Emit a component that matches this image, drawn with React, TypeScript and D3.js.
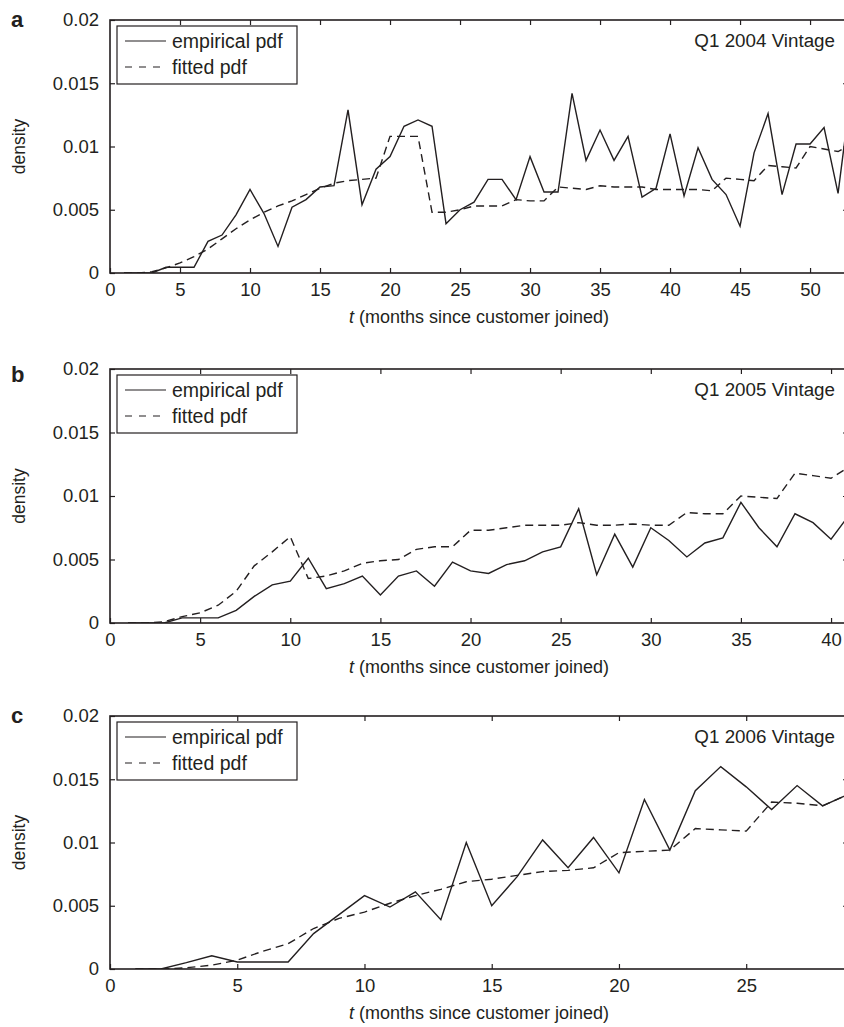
import React, { useEffect, useRef } from "react";
import * as d3 from "d3";

// months since customer joined, one list per vintage
const monthsA = d3.range(1, 54);
const monthsB = d3.range(1, 42);
const monthsC = d3.range(1, 30);

// Q1 2004 vintage
const empiricalA = [
  0, 0, 0, 0.00045, 0.00045, 0.00045, 0.0025, 0.003, 0.0046, 0.0066,
  0.0047, 0.0021, 0.0052, 0.0058, 0.0068, 0.0069, 0.0129, 0.0054, 0.0082, 0.0092,
  0.0116, 0.0121, 0.0116, 0.0039, 0.005, 0.0056, 0.0074, 0.0074, 0.0058, 0.0092,
  0.0064, 0.0064, 0.0142, 0.0089, 0.0113, 0.0089, 0.0108, 0.006, 0.0067, 0.011,
  0.0061, 0.0099, 0.0074, 0.0062, 0.0037, 0.0095, 0.0126, 0.0062, 0.0102, 0.0102,
  0.0115, 0.0063, 0.015,
];
const fittedA = [
  0, 0, 0.0001, 0.0004, 0.0008, 0.0013, 0.0019, 0.0027, 0.0035, 0.0042,
  0.0048, 0.0053, 0.0057, 0.0062, 0.0067, 0.0071, 0.0073, 0.0074, 0.0075, 0.0108,
  0.0108, 0.0108, 0.0048, 0.0048, 0.005, 0.0053, 0.0053, 0.0053, 0.0058, 0.0057,
  0.0057, 0.0068, 0.0067, 0.0066, 0.0069, 0.0068, 0.0068, 0.0068, 0.0066, 0.0066,
  0.0066, 0.0066, 0.0065, 0.0075, 0.0074, 0.0073, 0.0085, 0.0084, 0.0083, 0.01,
  0.0098, 0.0096, 0.0102,
];

// Q1 2005 vintage
const empiricalB = [
  0, 0, 0, 0.0004, 0.0004, 0.0004, 0.001, 0.0021, 0.003, 0.0033,
  0.0051, 0.0027, 0.0031, 0.0037, 0.0022, 0.0037, 0.0041, 0.0029, 0.0048, 0.0041,
  0.0039, 0.0046, 0.0049, 0.0056, 0.006, 0.009, 0.0038, 0.007, 0.0044, 0.0075,
  0.0065, 0.0052, 0.0063, 0.0067, 0.0095, 0.0075, 0.006, 0.0086, 0.0079, 0.0066,
  0.0085,
];
const fittedB = [
  0, 0, 0.0001, 0.0005, 0.0008, 0.0014, 0.0025, 0.0045, 0.0056, 0.0068,
  0.0035, 0.0037, 0.0041, 0.0047, 0.0049, 0.005, 0.0058, 0.006, 0.006, 0.0073,
  0.0073, 0.0075, 0.0077, 0.0077, 0.0077, 0.0079, 0.0077, 0.0077, 0.0078, 0.0077,
  0.0077, 0.0087, 0.0086, 0.0086, 0.01, 0.0099, 0.0098, 0.0118, 0.0116, 0.0114,
  0.0123,
];

// Q1 2006 vintage
const empiricalC = [
  0, 0, 0.0005, 0.00105, 0.00055, 0.00055, 0.00055, 0.0028, 0.0043, 0.0058,
  0.0049, 0.0061, 0.0039, 0.01, 0.005, 0.0073, 0.0102, 0.008, 0.0104, 0.0076,
  0.0134, 0.0094, 0.0141, 0.016, 0.0144, 0.0126, 0.0145, 0.0129, 0.0138,
];
const fittedC = [
  0, 0, 0.0001, 0.0003, 0.0007, 0.0014, 0.002, 0.0032, 0.004, 0.0045,
  0.0052, 0.0058, 0.0063, 0.0069, 0.0071, 0.0074, 0.0077, 0.0078, 0.008, 0.0092,
  0.0093, 0.0094, 0.0111, 0.011, 0.0109, 0.0132, 0.0131, 0.0129, 0.0138,
];

const yTicks = [0, 0.005, 0.01, 0.015, 0.02];
const xTicksA = [0, 5, 10, 15, 20, 25, 30, 35, 40, 45, 50];
const xTicksB = [0, 5, 10, 15, 20, 25, 30, 35, 40];
const xTicksC = [0, 5, 10, 15, 20, 25];

const panelLetters = ["a", "b", "c"];
const vintageTitles = ["Q1 2004 Vintage", "Q1 2005 Vintage", "Q1 2006 Vintage"];
const legendLabels = ["empirical pdf", "fitted pdf"];
const xTitle = " (months since customer joined)";
const yTitle = "density";

const INK = "#231f20";
const FONT = "'Liberation Sans', Arial, Helvetica, sans-serif";

const App = () => {
  const ref = useRef<SVGSVGElement | null>(null);

  useEffect(() => {
    const svg = d3.select(ref.current);
    svg.selectAll("*").remove();

    const panels = [
      { months: monthsA, emp: empiricalA, fit: fittedA, xTicks: xTicksA, xMax: 52.71, top: 20, bottom: 273, letterDy: 7 },
      { months: monthsB, emp: empiricalB, fit: fittedB, xTicks: xTicksB, xMax: 40.94, top: 369, bottom: 623, letterDy: 13 },
      { months: monthsC, emp: empiricalC, fit: fittedC, xTicks: xTicksC, xMax: 29, top: 716, bottom: 969, letterDy: 7 },
    ];
    const left = 110, right = 848;

    panels.forEach((p, i) => {
      const g = svg.append("g").attr("font-family", FONT).attr("fill", INK);

      const x = d3.scaleLinear().domain([0, p.xMax]).range([left, right]);
      const y = d3.scaleLinear().domain([0, 0.02]).range([p.bottom, p.top]);

      // clip for the data lines
      const clipId = `clip-${i}`;
      svg.append("defs").append("clipPath").attr("id", clipId)
        .append("rect")
        .attr("x", left).attr("y", p.top)
        .attr("width", right - left).attr("height", p.bottom - p.top);

      // Axes (ticks point inward, like matlab)
      const styleAxis = (sel: any) => {
        sel.select(".domain").remove();
        sel.selectAll("line").attr("stroke", INK).attr("stroke-width", 1.2);
        sel.selectAll("text").attr("font-size", 18.5).attr("fill", INK).attr("font-family", FONT);
      };

      g.append("g")
        .attr("transform", `translate(0,${p.bottom})`)
        .call(d3.axisBottom(x).tickValues(p.xTicks).tickSizeInner(-5).tickSizeOuter(0).tickPadding(10).tickFormat((d: any) => String(d)))
        .call(styleAxis);
      g.append("g")
        .attr("transform", `translate(0,${p.top})`)
        .call(d3.axisTop(x).tickValues(p.xTicks.filter(d => d > 0)).tickSizeInner(-5).tickSizeOuter(0).tickFormat(() => ""))
        .call(styleAxis);
      g.append("g")
        .attr("transform", `translate(${left},0)`)
        .call(d3.axisLeft(y).tickValues(yTicks).tickSizeInner(-5).tickSizeOuter(0).tickPadding(11).tickFormat((d: any) => String(d)))
        .call(styleAxis);
      g.append("g")
        .attr("transform", `translate(${right},0)`)
        .call(d3.axisRight(y).tickValues(yTicks.filter(d => d > 0 && d < 0.02)).tickSizeInner(-5).tickSizeOuter(0).tickFormat(() => ""))
        .call(styleAxis);

      // Box
      g.append("rect")
        .attr("x", left).attr("y", p.top)
        .attr("width", right - left).attr("height", p.bottom - p.top)
        .attr("fill", "none").attr("stroke", INK).attr("stroke-width", 1.6);

      // Lines
      const line = (vals: number[]) =>
        d3.line<number>().x((_, k) => x(p.months[k])).y(d => y(d))(vals);

      const data = g.append("g").attr("clip-path", `url(#${clipId})`);
      data.append("path")
        .attr("d", line(p.fit))
        .attr("fill", "none").attr("stroke", INK).attr("stroke-width", 1.4)
        .attr("stroke-dasharray", "8,5");
      data.append("path")
        .attr("d", line(p.emp))
        .attr("fill", "none").attr("stroke", INK).attr("stroke-width", 1.4);

      // Legend
      const lg = g.append("g").attr("transform", `translate(117,${p.top + 6})`);
      lg.append("rect").attr("width", 180).attr("height", 58)
        .attr("fill", "white").attr("stroke", INK).attr("stroke-width", 1.2);
      legendLabels.forEach((lab, k) => {
        const ly = 15 + k * 26;
        lg.append("line")
          .attr("x1", 8).attr("x2", 49).attr("y1", ly).attr("y2", ly)
          .attr("stroke", INK).attr("stroke-width", 1.2)
          .attr("stroke-dasharray", k === 1 ? "7,7" : null);
        lg.append("text").attr("x", 55).attr("y", ly).attr("dy", "0.35em")
          .attr("font-size", 19.5).text(lab);
      });

      // Title inside plot
      g.append("text")
        .attr("x", 835).attr("y", p.top + 20).attr("dy", "0.35em")
        .attr("text-anchor", "end").attr("font-size", 18.8)
        .text(vintageTitles[i]);

      // Panel letter
      g.append("text")
        .attr("x", 11).attr("y", p.top + p.letterDy)
        .attr("font-size", 22).attr("font-weight", "bold")
        .text(panelLetters[i]);

      // Axis titles
      const xt = g.append("text")
        .attr("x", (left + right) / 2).attr("y", p.bottom + 44).attr("dy", "0.35em")
        .attr("text-anchor", "middle").attr("font-size", 18);
      xt.append("tspan").attr("font-style", "italic").text("t");
      xt.append("tspan").text(xTitle);

      g.append("text")
        .attr("transform", `translate(19,${(p.top + p.bottom) / 2}) rotate(-90)`)
        .attr("text-anchor", "middle").attr("dy", "0.35em")
        .attr("font-size", 17.5)
        .text(yTitle);
    });
  }, []);

  return (
    <svg
      ref={ref}
      width={844}
      height={1027}
      style={{ position: "absolute", left: 0, top: 0, background: "white" }}
    ></svg>
  );
};

export default App;
